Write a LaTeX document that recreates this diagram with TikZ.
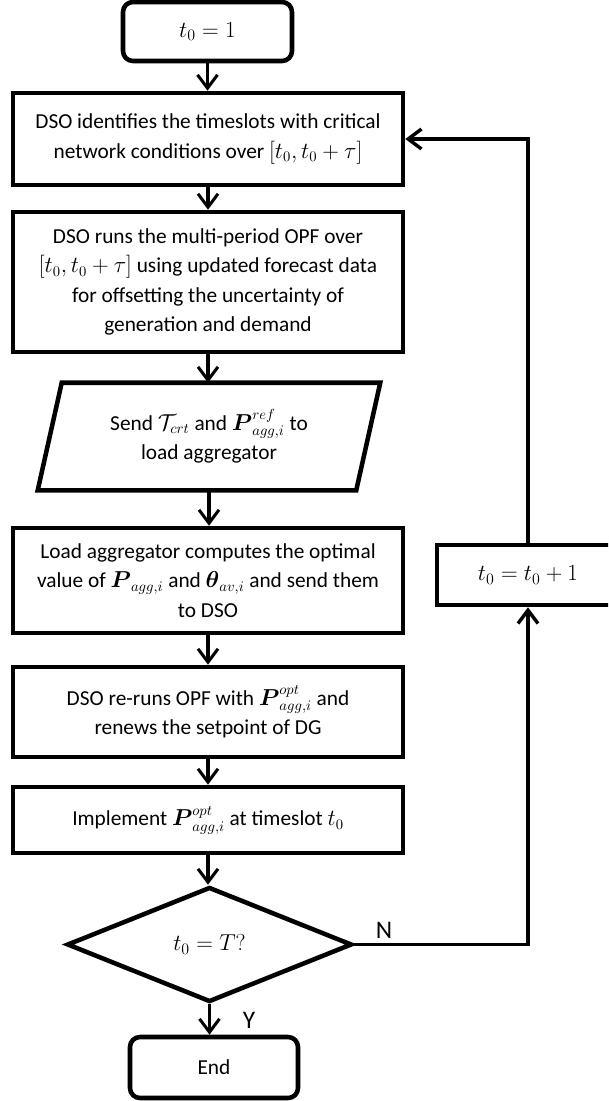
\documentclass[tikz,border=0pt]{standalone}
\usepackage{amsmath,amssymb}
\usepackage{fontspec}
\setmainfont{Carlito}
\usetikzlibrary{arrows.meta,shapes.geometric,calc}
\begin{document}
\begin{tikzpicture}[x=0.75pt,y=-0.75pt,
  txt/.style={font=\fontsize{16}{22}\selectfont, align=center},
  bigmath/.style={font=\fontsize{18}{22}\selectfont},
  procbox/.style={txt, draw, line width=3.4pt, minimum width=292.5pt, inner sep=0pt},
  termbox/.style={txt, draw, line width=3.4pt, rounded corners=7.5pt, inner sep=0pt},
  decbox/.style={txt, draw, diamond, line width=3.4pt, inner sep=0pt, minimum width=213.75pt, minimum height=86.25pt},
  arr/.style={line width=2.3pt, -{Straight Barb[length=10pt,width=15pt,line width=2.3pt]}},
  looparr/.style={line width=2.8pt, -{Straight Barb[length=10pt,width=15pt,line width=2.6pt]}},
  lbl/.style={font=\fontsize{19}{22}\selectfont, inner sep=0pt}
]
\useasboundingbox (0,0) rectangle (608,1101);
\begin{scope}
\clip (0,0) rectangle (608,1101);
\node[termbox, bigmath, minimum width=126.75pt, minimum height=44.25pt] (t1) at (207.5,31.5) {$t_0=1$};
\node[procbox, minimum height=69pt] (b2) at (208,139) {DSO identifies the timeslots with critical\\network conditions over $[t_0,t_0+\tau]$};
\node[procbox, minimum height=105pt] (b3) at (208,282) {DSO runs the multi-period OPF over\\$[t_0,t_0+\tau]$ using updated forecast data\\for offsetting the uncertainty of\\generation and demand};
\node[txt, minimum width=238.5pt, minimum height=80.25pt, inner sep=0pt] (p) at (209,436.5) {Send $\mathcal{T}_{crt}$ and $\boldsymbol{P}^{ref}_{agg,i}$ to\\load aggregator};
\draw[line width=3.4pt, line join=miter] ($(p.north west)+(12,0)$) -- ($(p.north east)+(12,0)$) -- ($(p.south east)+(-12,0)$) -- ($(p.south west)+(-12,0)$) -- cycle;
\node[procbox, minimum height=78.75pt] (b4) at (208,580.5) {Load aggregator computes the optimal\\value of $\boldsymbol{P}_{agg,i}$ and $\boldsymbol{\theta}_{av,i}$ and send them\\to DSO};
\node[procbox, minimum height=67.5pt] (b5) at (208,712) {DSO re-runs OPF with $\boldsymbol{P}^{opt}_{agg,i}$ and\\renews the setpoint of DG};
\node[procbox, minimum height=49.5pt] (b6) at (208,820) {Implement $\boldsymbol{P}^{opt}_{agg,i}$ at timeslot $t_0$};
\node[decbox, bigmath] (dia) at (209.5,944.5) {$t_0=T?$};
\node[termbox, minimum width=126pt, minimum height=45.75pt] (end) at (214,1067.5) {End};
\node[procbox, bigmath, minimum width=136.5pt, minimum height=45pt] (rb) at (528,575) {$t_0=t_0+1$};

\draw[arr] (t1.south) -- (t1.south |- b2.north);
\draw[arr] (b2.south) -- (b3.north);
\draw[arr] (b3.south) -- (b3.south |- p.north);
\draw[arr] (p.south) -- (p.south |- b4.north);
\draw[arr] (b4.south) -- (b5.north);
\draw[arr] (b5.south) -- (b6.north);
\draw[arr] (b6.south) -- (b6.south |- dia.north);
\draw[arr] (dia.south) -- (dia.south |- end.north);
\draw[looparr] (rb.north) |- (b2.east);
\draw[looparr] (dia.east) -| (rb.south);
\node[lbl] (nl) at (384,930) {N};
\node[lbl] (yl) at (249,1020) {Y};
\end{scope}
\end{tikzpicture}
\end{document}
